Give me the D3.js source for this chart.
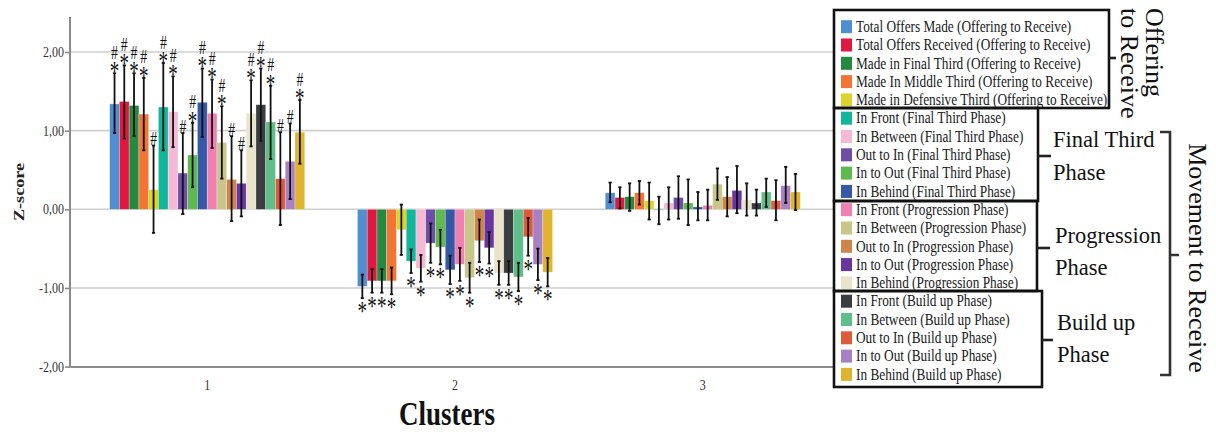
<!DOCTYPE html>
<html><head><meta charset="utf-8">
<script src="https://cdn.jsdelivr.net/npm/d3@7"></script>
<style>html,body{margin:0;padding:0;background:#fff;} svg{display:block;font-family:"Liberation Serif","Times New Roman",serif;}</style>
</head><body><svg id="c" width="1216" height="432"></svg>
<script>
// ---------- DATA ----------
const clusters = ["1", "2", "3"];
const seriesNames = [
  "Total Offers Made (Offering to Receive)",
  "Total Offers Received (Offering to Receive)",
  "Made in Final Third (Offering to Receive)",
  "Made In Middle Third (Offering to Receive)",
  "Made in Defensive Third (Offering to Receive)",
  "In Front (Final Third Phase)",
  "In Between (Final Third Phase)",
  "Out to In (Final Third Phase)",
  "In to Out (Final Third Phase)",
  "In Behind (Final Third Phase)",
  "In Front (Progression Phase)",
  "In Between (Progression Phase)",
  "Out to In (Progression Phase)",
  "In to Out (Progression Phase)",
  "In Behind (Progression Phase)",
  "In Front (Build up Phase)",
  "In Between (Build up Phase)",
  "Out to In (Build up Phase)",
  "In to Out (Build up Phase)",
  "In Behind (Build up Phase)"
];
const seriesColors = [
  "#4f8fd0", "#e0183f", "#248a42", "#f47436", "#dcd42c",
  "#14b69b", "#f5b9d5", "#6e4ea6", "#5dbb4d", "#3559a7",
  "#ef80b1", "#c9c68c", "#d08548", "#6a35a0", "#e9e3c9",
  "#3a3e41", "#5fbf8b", "#dd5a3a", "#a881c4", "#e0b42e"
];
// Cluster 1
const meanC1  = [1.34, 1.37, 1.32, 1.21, 0.25, 1.30, 1.24, 0.46, 0.69, 1.36, 1.22, 0.85, 0.38, 0.33, 1.22, 1.33, 1.11, 0.39, 0.61, 0.98];
const upperC1 = [1.73, 1.83, 1.73, 1.67, 0.81, 1.86, 1.69, 0.97, 1.10, 1.79, 1.65, 1.31, 0.93, 0.75, 1.64, 1.79, 1.57, 0.98, 1.09, 1.39];
const lowerC1 = [0.97, 0.90, 0.93, 0.75, -0.30, 0.75, 0.79, -0.06, 0.28, 0.92, 0.78, 0.39, -0.15, -0.09, 0.80, 0.87, 0.64, -0.20, 0.13, 0.58];
// Cluster 2
const meanC2  = [-0.98, -0.91, -0.91, -0.91, -0.26, -0.66, -0.75, -0.43, -0.48, -0.77, -0.70, -0.87, -0.40, -0.49, -0.81, -0.81, -0.86, -0.35, -0.70, -0.80];
const upperC2 = [-0.83, -0.76, -0.76, -0.74, 0.06, -0.51, -0.58, -0.18, -0.26, -0.59, -0.49, -0.68, -0.13, -0.29, -0.66, -0.66, -0.68, -0.11, -0.50, -0.62];
const lowerC2 = [-1.13, -1.06, -1.06, -1.08, -0.58, -0.81, -0.92, -0.68, -0.70, -0.95, -0.91, -1.06, -0.67, -0.69, -0.96, -0.96, -1.04, -0.59, -0.90, -0.98];
// Cluster 3
const meanC3  = [0.21, 0.15, 0.16, 0.21, 0.11, -0.01, 0.08, 0.15, 0.08, 0.03, 0.05, 0.32, 0.16, 0.24, 0.12, 0.08, 0.22, 0.11, 0.30, 0.22];
const upperC3 = [0.34, 0.28, 0.33, 0.36, 0.34, 0.16, 0.28, 0.42, 0.38, 0.22, 0.25, 0.52, 0.41, 0.55, 0.33, 0.25, 0.39, 0.37, 0.54, 0.45];
const lowerC3 = [0.09, 0.01, -0.02, 0.06, -0.13, -0.19, -0.13, -0.12, -0.20, -0.14, -0.14, 0.12, -0.09, -0.05, -0.08, -0.08, 0.03, -0.14, 0.08, -0.01];
// significance marks ("*" and "#")
const starC1 = [1,1,1,1,0,1,1,0,1,1,1,1,0,0,1,1,1,0,0,1];
const hashC1 = [1,1,1,1,1,1,1,1,1,1,1,1,1,1,1,1,1,1,1,1];
const starC2 = [1,1,1,1,0,1,1,1,1,1,1,1,1,1,1,1,1,1,1,1];
const hashC2 = [0,0,0,0,0,0,0,0,0,0,0,0,0,0,0,0,0,0,0,0];
const starC3 = [0,0,0,0,0,0,0,0,0,0,0,0,0,0,0,0,0,0,0,0];
const hashC3 = [0,0,0,0,0,0,0,0,0,0,0,0,0,0,0,0,0,0,0,0];
const yTicks = [-2, -1, 0, 1, 2];
const yTickLabels = ["-2,00", "-1,00", "0,00", "1,00", "2,00"];
const gridValues = [-1, 0, 1, 2];
const xTitle = "Clusters";
const yTitle = "Z-score";
const groupLabels = [["Final Third", "Phase"], ["Progression", "Phase"], ["Build up", "Phase"]];
const offeringLabel = ["Offering", "to Receive"];
const movementLabel = "Movement to Receive";

// ---------- BUILD ----------
const means = [meanC1, meanC2, meanC3];
const uppers = [upperC1, upperC2, upperC3];
const lowers = [lowerC1, lowerC2, lowerC3];
const stars = [starC1, starC2, starC3];
const hashes = [hashC1, hashC2, hashC3];
const rows = [];
clusters.forEach((c, ci) => seriesNames.forEach((s, si) => rows.push({
  cluster: c, series: s, si, mean: means[ci][si], hi: uppers[ci][si], lo: lowers[ci][si],
  star: stars[ci][si], hash: hashes[ci][si]
})));

const svg = d3.select("#c");
const SERIF = '"Liberation Serif","Times New Roman",serif';

function stext(g, x, y, txt, o = {}) {
  const t = g.append("text")
    .attr("transform", `translate(${x},${y})${o.rot ? ` rotate(${o.rot})` : ""} scale(${o.sx || 1},${o.sy || 1})`)
    .attr("font-family", SERIF)
    .attr("font-size", o.fs || 12)
    .attr("font-weight", o.fw || "normal")
    .attr("fill", o.fill || "#222")
    .attr("text-anchor", o.anchor || "start")
    .text(txt);
  if (o.db) t.attr("dominant-baseline", o.db);
  return t;
}

const y = d3.scaleLinear().domain([-2, 2]).range([366.6, 52]);
const x0 = d3.scaleBand().domain(clusters).range([70, 840]).paddingInner(0.2127).paddingOuter(0.16);
const x1 = d3.scaleBand().domain(seriesNames).range([0, x0.bandwidth()]).padding(0);
const color = d3.scaleOrdinal().domain(seriesNames).range(seriesColors);

// grid
svg.append("g").selectAll("line").data(gridValues).join("line")
  .attr("x1", 70).attr("x2", 840)
  .attr("y1", d => y(d)).attr("y2", d => y(d))
  .attr("stroke", "#cfcfcf").attr("stroke-width", 1.6);

// bars
svg.append("g").selectAll("rect").data(rows).join("rect")
  .attr("x", d => x0(d.cluster) + x1(d.series))
  .attr("width", x1.bandwidth())
  .attr("y", d => y(Math.max(0, d.mean)))
  .attr("height", d => Math.abs(y(d.mean) - y(0)))
  .attr("fill", d => color(d.series))
  .attr("stroke", "rgba(255,255,255,0.45)").attr("stroke-width", 0.6);

// error bars
const eb = svg.append("g").attr("stroke", "#111").attr("stroke-width", 1.8);
rows.forEach(d => {
  const cx = x0(d.cluster) + x1(d.series) + x1.bandwidth() / 2;
  eb.append("line").attr("x1", cx).attr("x2", cx).attr("y1", y(d.hi)).attr("y2", y(d.lo));
  eb.append("line").attr("x1", cx - 1.6).attr("x2", cx + 1.6).attr("y1", y(d.hi)).attr("y2", y(d.hi));
  eb.append("line").attr("x1", cx - 1.6).attr("x2", cx + 1.6).attr("y1", y(d.lo)).attr("y2", y(d.lo));
});

// significance marks: one text per bar, "#" stacked above "*"
const mk = svg.append("g");
const STAR_FS = 19, HASH_FS = 13.7, MSY = 1.4;
rows.forEach(d => {
  if (!d.star && !d.hash) return;
  const cx = x0(d.cluster) + x1(d.series) + x1.bandwidth() / 2;
  const c = d.mean >= 0 ? y(d.hi) - 7 : y(d.lo) + 8;   // centre of the mark nearest the whisker
  const t = mk.append("text")
    .attr("transform", `translate(${cx},${c}) scale(1,${MSY})`)
    .attr("font-family", SERIF).attr("fill", "#111").attr("text-anchor", "middle");
  if (d.star && d.hash) {
    t.append("tspan").attr("x", 0).attr("y", -14 / MSY + 0.34 * HASH_FS).attr("font-size", HASH_FS).text("#");
    t.append("tspan").attr("x", 0).attr("y", 0.52 * STAR_FS).attr("font-size", STAR_FS).text("*");
  } else if (d.hash) {
    t.append("tspan").attr("x", 0).attr("y", 0.34 * HASH_FS).attr("font-size", HASH_FS).text("#");
  } else {
    t.append("tspan").attr("x", 0).attr("y", 0.52 * STAR_FS).attr("font-size", STAR_FS).text("*");
  }
});

// y axis
const yAxisG = svg.append("g").attr("transform", "translate(70,0)")
  .call(d3.axisLeft(y).tickValues(yTicks).tickSize(5).tickFormat(d => yTickLabels[yTicks.indexOf(d)]));
yAxisG.select(".domain").remove();
yAxisG.selectAll(".tick line").attr("stroke", "#8a8a8a").attr("stroke-width", 1.6);
yAxisG.selectAll(".tick text").remove();
yAxisG.selectAll(".tick").each(function (d) {
  stext(d3.select(this), -6, 4.6, yTickLabels[yTicks.indexOf(d)], {fs: 12, sy: 1.25, anchor: "end", fill: "#333"});
});
svg.append("line").attr("x1", 70).attr("x2", 70).attr("y1", 17).attr("y2", y(-2) + 1)
  .attr("stroke", "#8a8a8a").attr("stroke-width", 2);

// x axis
const xAxisG = svg.append("g").attr("transform", `translate(0,${y(-2)})`)
  .call(d3.axisBottom(x0).tickSize(0));
xAxisG.select(".domain").attr("stroke", "#8a8a8a").attr("stroke-width", 2);
xAxisG.selectAll(".tick text").remove();
xAxisG.selectAll(".tick").each(function (d) {
  stext(d3.select(this), 0, 23, d, {fs: 12, sy: 1.25, anchor: "middle", fill: "#333"});
});

// axis titles
stext(svg, 447, 424.5, xTitle, {fs: 27, fw: "bold", sy: 1.24, anchor: "middle", fill: "#111"});
stext(svg, 24, 192, yTitle, {fs: 14, fw: "bold", rot: -90, sx: 1.3, anchor: "middle", fill: "#222"});

// ---------- LEGEND ----------
const boxes = [
  {x: 834, y: 10, w: 275, h: 98, tickY: 58, tickX2: 1116},
  {x: 834, y: 108, w: 204, h: 93, tickY: 156, tickX2: 1051},
  {x: 834, y: 201, w: 203, h: 90, tickY: 248, tickX2: 1050},
  {x: 834, y: 291, w: 208, h: 96, tickY: 340, tickX2: 1053}
];
const lg = svg.append("g");
boxes.forEach(b => {
  lg.append("rect").attr("x", b.x).attr("y", b.y).attr("width", b.w).attr("height", b.h)
    .attr("fill", "#fff");
});
seriesNames.forEach((s, i) => {
  const cy = 26.7 + i * 18.3;
  lg.append("rect").attr("x", 841).attr("y", cy - 6.5).attr("width", 11).attr("height", 13).attr("fill", color(s));
  stext(lg, 856, cy + 5.2, s, {fs: 13.3, sy: 1.22, fill: "#1a1a1a"});
});
boxes.forEach(b => {
  lg.append("rect").attr("x", b.x).attr("y", b.y).attr("width", b.w).attr("height", b.h)
    .attr("fill", "none").attr("stroke", "#111").attr("stroke-width", 2.6);
  lg.append("line").attr("x1", b.x + b.w).attr("x2", b.tickX2).attr("y1", b.tickY).attr("y2", b.tickY)
    .attr("stroke", "#222").attr("stroke-width", 2.6);
});

// group labels
const gl = svg.append("g");
stext(gl, 1053, 147, groupLabels[0][0], {fs: 22.5, fill: "#111"});
stext(gl, 1053, 180, groupLabels[0][1], {fs: 22.5, fill: "#111"});
stext(gl, 1055, 243, groupLabels[1][0], {fs: 22.5, fill: "#111"});
stext(gl, 1055, 275, groupLabels[1][1], {fs: 22.5, fill: "#111"});
stext(gl, 1057, 330, groupLabels[2][0], {fs: 22.5, fill: "#111"});
stext(gl, 1057, 362, groupLabels[2][1], {fs: 22.5, fill: "#111"});

// rotated "Offering to Receive"
stext(gl, 1146, 8, offeringLabel[0], {fs: 26, rot: 90, fill: "#111"});
stext(gl, 1121, 8, offeringLabel[1], {fs: 26, rot: 90, fill: "#111"});

// big bracket
gl.append("path")
  .attr("d", "M1160,132 H1170 V375 H1160 M1170,255 H1179")
  .attr("fill", "none").attr("stroke", "#333").attr("stroke-width", 2.6);
stext(gl, 1189, 258, movementLabel, {fs: 26, rot: 90, anchor: "middle", fill: "#111"});
</script></body></html>
